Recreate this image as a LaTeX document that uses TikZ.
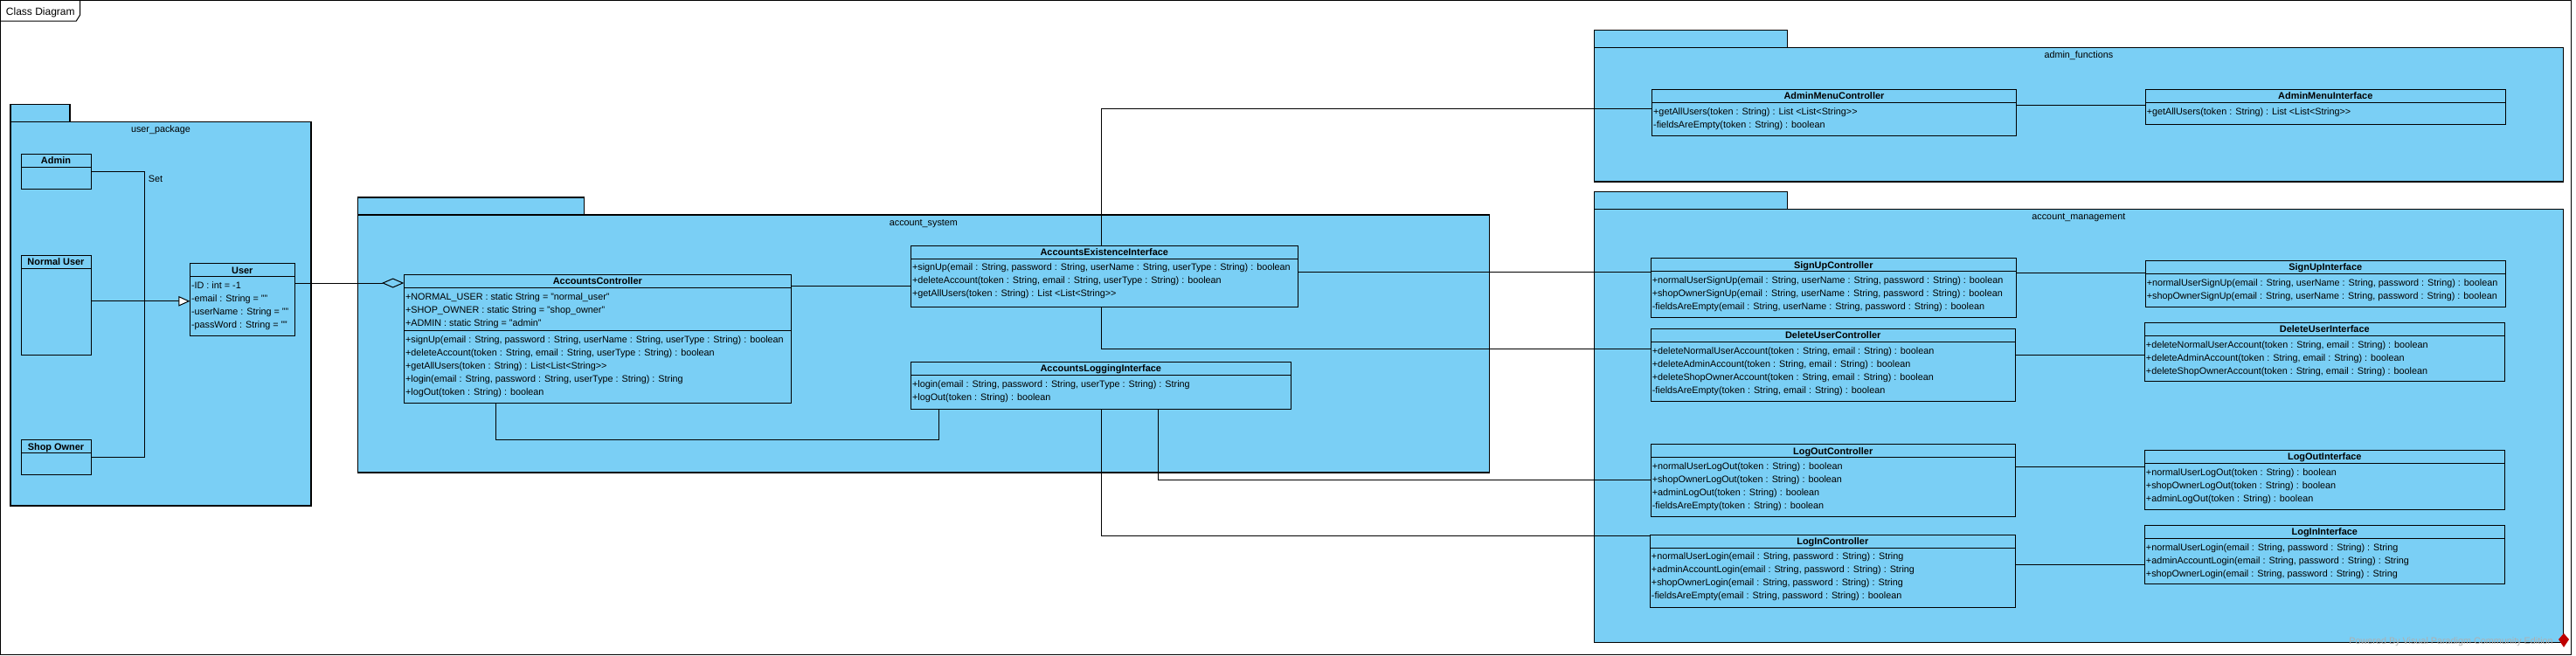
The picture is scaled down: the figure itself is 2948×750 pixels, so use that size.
\documentclass[tikz,border=0pt]{standalone}
\usepackage{fontspec}
\setmainfont{Liberation Sans}
\usetikzlibrary{arrows.meta,fit}
\definecolor{pkgblue}{RGB}{122,207,245}
\definecolor{wmgray}{RGB}{175,175,175}
\tikzset{
  lw/.style={line width=0.75pt},
  pkgshape/.style={draw=black, fill=pkgblue, line width=0.8pt},
  pkgbody/.style={draw=black, fill=pkgblue, line width=0.8pt, inner sep=0pt, outer sep=0pt},
  cls/.style={draw=black, fill=pkgblue, line width=0.75pt, inner sep=0pt, outer sep=0pt},
  ctitle/.style={font=\fontsize{8.2}{9.9}\selectfont\bfseries, inner sep=0pt},
  ctext/.style={font=\fontsize{8.1}{9.9}\selectfont, inner sep=0pt},
  conn/.style={draw=black, line width=0.75pt},
}
\newcommand\gtgt{>{}>}
% package: name, x1, tab-top, tab-right, body-top, x2, y2, label
\newcommand\umlpkg[8]{%
  \draw[pkgshape] (#2,#3) rectangle (#4,#5);
  \coordinate (#1-nw) at (#2,#5); \coordinate (#1-se) at (#6,#7);
  \node[pkgbody, fit=(#1-nw)(#1-se)] (#1) {};
  \node[ctext, anchor=base] (#1-label) at ({(#2+#6)/2},#5+12) {#8};
}
% class: name, x1, y1, x2, y2, title
\newcommand\umlclass[6]{%
  \coordinate (#1-nw) at (#2,#3); \coordinate (#1-se) at (#4,#5);
  \node[cls, fit=(#1-nw)(#1-se)] (#1) {};
  \node[ctitle, anchor=base] (#1-title) at ({(#2+#4)/2},#3+11.5) {#6};
  \draw[conn] (#2,#3+15) -- (#4,#3+15);
}
% lines: name, x-left, separator y, list
\newcommand\umllines[4]{%
  \foreach \mytext [count=\i from 0] in {#4} {
    \node[ctext, anchor=base west] (#1-l\i) at (#2+1.5, #3+13.7+15*\i) {\mytext};
  }
}
\begin{document}
\begin{tikzpicture}[x=0.75pt,y=-0.75pt]
\useasboundingbox (0,0) rectangle (2948,750);
\fill[white] (0,0) rectangle (2948,750);
% frame
\draw[lw] (0.5,0.5) rectangle (2942,749);
\draw[lw] (0,24) -- (87.3,24) -- (91.7,17) -- (91.7,0);
\node[anchor=base west, inner sep=0pt, font=\fontsize{9}{10.8}\selectfont] (frametitle) at (6.7,17) {Class Diagram};

% ---------- packages ----------
\umlpkg{UP}{12}{119.4}{80}{139.3}{356}{579}{user\_package}
\umlpkg{AS}{409.3}{226}{668.7}{246}{1704.5}{541}{account\_system}
\umlpkg{AF}{1824.3}{34.3}{2045.7}{54.3}{2933.4}{208}{admin\_functions}
\umlpkg{AM}{1824.3}{219.3}{2045.7}{239.3}{2933.4}{735.3}{account\_management}

% ---------- user_package ----------
\umlclass{Adm}{24}{176.4}{104}{216.2}{Admin}
\umlclass{NU}{24}{292.4}{104}{406.4}{Normal User}
\umlclass{SO}{24}{503.6}{104}{543.4}{Shop Owner}
\umlclass{User}{217.3}{301.6}{337.3}{384.2}{User}
\umllines{User}{217.3}{316.6}{{-ID : int = -1},{-email : String = ""},{-userName : String = ""},{-passWord : String = ""}}

% ---------- account_system ----------
\umlclass{AC}{462.3}{314.3}{905.3}{461}{AccountsController}
\umllines{AC-a}{462.3}{329.3}{{+NORMAL\_USER : static String = "normal\_user"},{+SHOP\_OWNER : static String = "shop\_owner"},{+ADMIN : static String = "admin"}}
\draw[conn] (462.3,378.3) -- (905.3,378.3);
\umllines{AC-o}{462.3}{378.3}{{+signUp(email : String, password : String, userName : String, userType : String) : boolean},{+deleteAccount(token : String, email : String, userType : String) : boolean},{+getAllUsers(token : String) : List<List<String\gtgt},{+login(email : String, password : String, userType : String) : String},{+logOut(token : String) : boolean}}

\umlclass{AEI}{1042.3}{281}{1485.3}{351.3}{AccountsExistenceInterface}
\umllines{AEI}{1042.3}{296}{{+signUp(email : String, password : String, userName : String, userType : String) : boolean},{+deleteAccount(token : String, email : String, userType : String) : boolean},{+getAllUsers(token : String) : List <List<String\gtgt}}

\umlclass{ALI}{1042.3}{414.3}{1477.3}{468.3}{AccountsLoggingInterface}
\umllines{ALI}{1042.3}{429.5}{{+login(email : String, password : String, userType : String) : String},{+logOut(token : String) : boolean}}

% ---------- admin_functions ----------
\umlclass{AMC}{1890.4}{102.3}{2307.5}{155}{AdminMenuController}
\umllines{AMC}{1890.4}{117.3}{{+getAllUsers(token : String) : List <List<String\gtgt},{-fieldsAreEmpty(token : String) : boolean}}
\umlclass{AMI}{2455}{102.3}{2867.5}{142.3}{AdminMenuInterface}
\umllines{AMI}{2455}{117.5}{{+getAllUsers(token : String) : List <List<String\gtgt}}

% ---------- account_management ----------
\umlclass{SUC}{1889}{295.7}{2307.5}{363.3}{SignUpController}
\umllines{SUC}{1889}{310.5}{{+normalUserSignUp(email : String, userName : String, password : String) : boolean},{+shopOwnerSignUp(email : String, userName : String, password : String) : boolean},{-fieldsAreEmpty(email : String, userName : String, password : String) : boolean}}
\umlclass{DUC}{1889}{376.3}{2306.4}{459}{DeleteUserController}
\umllines{DUC}{1889}{391.8}{{+deleteNormalUserAccount(token : String, email : String) : boolean},{+deleteAdminAccount(token : String, email : String) : boolean},{+deleteShopOwnerAccount(token : String, email : String) : boolean},{-fieldsAreEmpty(token : String, email : String) : boolean}}
\umlclass{SUI}{2455}{298.3}{2867.5}{351}{SignUpInterface}
\umllines{SUI}{2455}{313.3}{{+normalUserSignUp(email : String, userName : String, password : String) : boolean},{+shopOwnerSignUp(email : String, userName : String, password : String) : boolean}}
\umlclass{DUI}{2454.2}{369.3}{2866.4}{436}{DeleteUserInterface}
\umllines{DUI}{2454.2}{384.5}{{+deleteNormalUserAccount(token : String, email : String) : boolean},{+deleteAdminAccount(token : String, email : String) : boolean},{+deleteShopOwnerAccount(token : String, email : String) : boolean}}
\umlclass{LOC}{1889}{508.7}{2306.4}{591}{LogOutController}
\umllines{LOC}{1889}{523.5}{{+normalUserLogOut(token : String) : boolean},{+shopOwnerLogOut(token : String) : boolean},{+adminLogOut(token : String) : boolean},{-fieldsAreEmpty(token : String) : boolean}}
\umlclass{LIC}{1888.2}{612.3}{2306.4}{695.3}{LogInController}
\umllines{LIC}{1888.2}{627.2}{{+normalUserLogin(email : String, password : String) : String},{+adminAccountLogin(email : String, password : String) : String},{+shopOwnerLogin(email : String, password : String) : String},{-fieldsAreEmpty(email : String, password : String) : boolean}}
\umlclass{LOI}{2454.2}{515.3}{2866.4}{583.3}{LogOutInterface}
\umllines{LOI}{2454.2}{530.8}{{+normalUserLogOut(token : String) : boolean},{+shopOwnerLogOut(token : String) : boolean},{+adminLogOut(token : String) : boolean}}
\umlclass{LII}{2454.2}{601.3}{2866.4}{668.3}{LogInInterface}
\umllines{LII}{2454.2}{617}{{+normalUserLogin(email : String, password : String) : String},{+adminAccountLogin(email : String, password : String) : String},{+shopOwnerLogin(email : String, password : String) : String}}

% ---------- connectors ----------
\coordinate (gj) at (165.3,344.8);
\draw[conn] (Adm.east |- 0,196.7) -| (gj);
\draw[conn] (SO.east |- 0,523.2) -| (gj);
\draw[conn, -{Triangle[fill=white, length=9.75pt, width=8.6pt]}] (NU.east |- 0,344.8) -- (User.west |- 0,344.8);
\node[ctext, anchor=base] (setlbl) at (178,208) {Set};
\draw[conn, -{Diamond[open, length=19pt, width=8.25pt]}] (User.east |- 0,324) -- (AC.west |- 0,324);

\draw[conn] (AC.east |- 0,327) -- (AEI.west |- 0,327);
\draw[conn] (AC.south -| 567.3,0) -- (567.3,503.3) -| (ALI.south -| 1074.3,0);
\draw[conn] (AEI.north -| 1260.3,0) |- (AMC.west |- 0,124);
\draw[conn] (AEI.east |- 0,311.5) -- (SUC.west |- 0,311.5);
\draw[conn] (AEI.south -| 1260.3,0) |- (DUC.west |- 0,399.3);
\draw[conn] (ALI.south -| 1325.4,0) |- (LOC.west |- 0,549.3);
\draw[conn] (ALI.south -| 1260.3,0) |- (LIC.west |- 0,613.5);
\draw[conn] (AMC.east |- 0,120) -- (AMI.west |- 0,120);
\draw[conn] (SUC.east |- 0,312) -- (SUI.west |- 0,312);
\draw[conn] (DUC.east |- 0,406) -- (DUI.west |- 0,406);
\draw[conn] (LOC.east |- 0,534) -- (LOI.west |- 0,534);
\draw[conn] (LIC.east |- 0,646.5) -- (LII.west |- 0,646.5);

% ---------- watermark ----------
\node[ctext, anchor=base east, text=wmgray] (wm) at (2922,737) {Powered By Visual Paradigm Community Edition};
\fill[red!75!black] (2934,725) -- (2940,732) -- (2934,741) -- (2928,732) -- cycle;
\end{tikzpicture}
\end{document}
